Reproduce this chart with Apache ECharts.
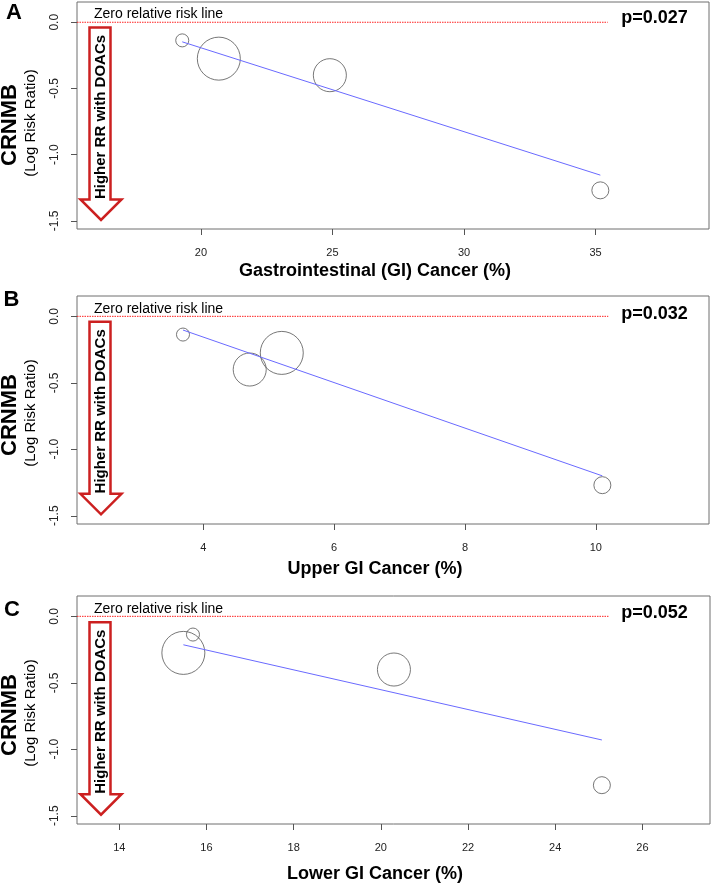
<!DOCTYPE html>
<html>
<head>
<meta charset="utf-8">
<script src="https://cdn.jsdelivr.net/npm/echarts@6/dist/echarts.min.js"></script>
<style>
html,body{margin:0;padding:0;background:#fff;}
#chart{width:712px;height:885px;}
</style>
</head>
<body>
<div id="chart"></div>
<script>
// ---------- data ----------
var panelLetters = ['A', 'B', 'C'];
var xTitles = ['Gastrointestinal (GI) Cancer (%)', 'Upper GI Cancer (%)', 'Lower GI Cancer (%)'];
var pValues = ['p=0.027', 'p=0.032', 'p=0.052'];
var logRR = [-0.137, -0.275, -0.40, -1.27];           // CRNMB log risk ratio per study
var studyWeight = [5.0, 54.4, 32.1, 8.5];             // relative weight (%) -> bubble area
var giCancer = [19.29, 20.68, 24.9, 35.18];
var upperGI = [3.69, 5.20, 4.71, 10.1];
var lowerGI = [15.69, 15.47, 20.3, 25.07];
var fitA = [[19.29, -0.148], [35.18, -1.155]];
var fitB = [[3.69, -0.103], [10.1, -1.20]];
var fitC = [[15.47, -0.214], [25.07, -0.93]];
var zeroLineEnd = [35.46, 10.19, 25.22];
var xTicksA = [20, 25, 30, 35];
var xTicksB = [4, 6, 8, 10];
var xTicksC = [14, 16, 18, 20, 22, 24, 26];
var yTicks = [-1.5, -1.0, -0.5, 0.0];
var xRanges = [[15.29, 39.31], [2.07, 11.73], [13.03, 27.55]];
var yRange = [-1.562, 0.153];

// ---------- layout ----------
var FONT = "'Liberation Sans', Arial, Helvetica, sans-serif";
var grids = [
  {left: 77, top: 2, width: 632, height: 227},
  {left: 77, top: 296, width: 632, height: 228},
  {left: 77, top: 596, width: 633, height: 228}
];
var zeroY = [22, 316.3, 616.7];
var letterPos = [[14, 13], [11.5, 299.5], [12, 610]];
var titleY = [271, 569, 874];
var pY = [18, 314, 613];
var yLabY = [125, 415, 715];

var xs = [giCancer, upperGI, lowerGI];
var fits = [fitA, fitB, fitC];
var xTicks = [xTicksA, xTicksB, xTicksC];

function bubbleDiam(w) { return 5.83 * Math.sqrt(w); }

var option = {
  animation: false,
  backgroundColor: '#ffffff',
  grid: grids.map(function (g) {
    return Object.assign({show: true, borderColor: '#6e6e6e', borderWidth: 1, backgroundColor: 'transparent'}, g);
  }),
  xAxis: [0, 1, 2].map(function (i) {
    return {
      gridIndex: i, type: 'value', min: xRanges[i][0], max: xRanges[i][1],
      axisLine: {show: false, onZero: false},
      splitLine: {show: false},
      axisTick: {show: true, length: 6, lineStyle: {color: '#555'}, customValues: xTicks[i]},
      axisLabel: {customValues: xTicks[i], fontSize: 11, color: '#222', margin: 18, fontFamily: FONT}
    };
  }),
  yAxis: [0, 1, 2].map(function (i) {
    return {
      gridIndex: i, type: 'value', min: yRange[0], max: yRange[1],
      axisLine: {show: false, onZero: false},
      splitLine: {show: false},
      axisTick: {show: true, length: 6, lineStyle: {color: '#555'}, customValues: yTicks},
      axisLabel: {customValues: yTicks, fontSize: 12, color: '#222', margin: 16, rotate: 90, fontFamily: FONT,
        formatter: function (v) { return Number(v).toFixed(1); }}
    };
  }),
  series: [],
  graphic: []
};

[0, 1, 2].forEach(function (i) {
  // zero relative risk line
  option.series.push({
    type: 'line', xAxisIndex: i, yAxisIndex: i, symbol: 'none', silent: true,
    data: [[xRanges[i][0], 0], [zeroLineEnd[i], 0]],
    itemStyle: {color: '#ff2020'},
    lineStyle: {color: '#ff2020', width: 1, type: [1.5, 1]}
  });
  // study bubbles
  option.series.push({
    type: 'scatter', xAxisIndex: i, yAxisIndex: i, symbol: 'circle', silent: true,
    data: xs[i].map(function (x, k) { return [x, logRR[k]]; }),
    symbolSize: function (v, p) { return bubbleDiam(studyWeight[p.dataIndex]); },
    itemStyle: {color: 'rgba(0,0,0,0)', borderColor: '#555', borderWidth: 1}
  });
  // meta-regression line
  option.series.push({
    type: 'line', xAxisIndex: i, yAxisIndex: i, symbol: 'none', silent: true,
    data: fits[i],
    itemStyle: {color: '#6a6aff'},
    lineStyle: {color: '#6a6aff', width: 1}
  });

  var z = zeroY[i];
  // panel letter
  option.graphic.push({type: 'text', x: letterPos[i][0], y: letterPos[i][1],
    style: {text: panelLetters[i], font: 'bold 22px ' + FONT, fill: '#000', align: 'center', verticalAlign: 'middle'}});
  // y-axis titles
  option.graphic.push({type: 'text', x: 10, y: yLabY[i], rotation: Math.PI / 2,
    style: {text: 'CRNMB', font: 'bold 22px ' + FONT, fill: '#000', align: 'center', verticalAlign: 'middle'}});
  option.graphic.push({type: 'text', x: 31, y: yLabY[i] - 2, rotation: Math.PI / 2,
    style: {text: '(Log Risk Ratio)', font: '15px ' + FONT, fill: '#000', align: 'center', verticalAlign: 'middle'}});
  // zero line label
  option.graphic.push({type: 'text', x: 94, y: z - 7.5,
    style: {text: 'Zero relative risk line', font: '14px ' + FONT, fill: '#000', align: 'left', verticalAlign: 'middle'}});
  // p value
  option.graphic.push({type: 'text', x: 654.5, y: pY[i],
    style: {text: pValues[i], font: 'bold 18px ' + FONT, fill: '#000', align: 'center', verticalAlign: 'middle'}});
  // x-axis title
  option.graphic.push({type: 'text', x: 375, y: titleY[i],
    style: {text: xTitles[i], font: 'bold 18px ' + FONT, fill: '#000', align: 'center', verticalAlign: 'middle'}});
  // arrow
  var top = z + 5.5, base = z + 177.5, tip = z + 198;
  option.graphic.push({type: 'polygon',
    shape: {points: [[89.5, top], [110.5, top], [110.5, base], [121.5, base], [101, tip], [80.5, base], [89.5, base]]},
    style: {fill: 'rgba(0,0,0,0)', stroke: '#cc2020', lineWidth: 2.5, lineJoin: 'miter'}});
  option.graphic.push({type: 'text', x: 101, y: z + 95, rotation: Math.PI / 2,
    style: {text: 'Higher RR with DOACs', font: 'bold 15px ' + FONT, fill: '#000', align: 'center', verticalAlign: 'middle'}});
});

var chart = echarts.init(document.getElementById('chart'), null, {renderer: 'canvas'});
chart.setOption(option);
</script>
</body>
</html>
